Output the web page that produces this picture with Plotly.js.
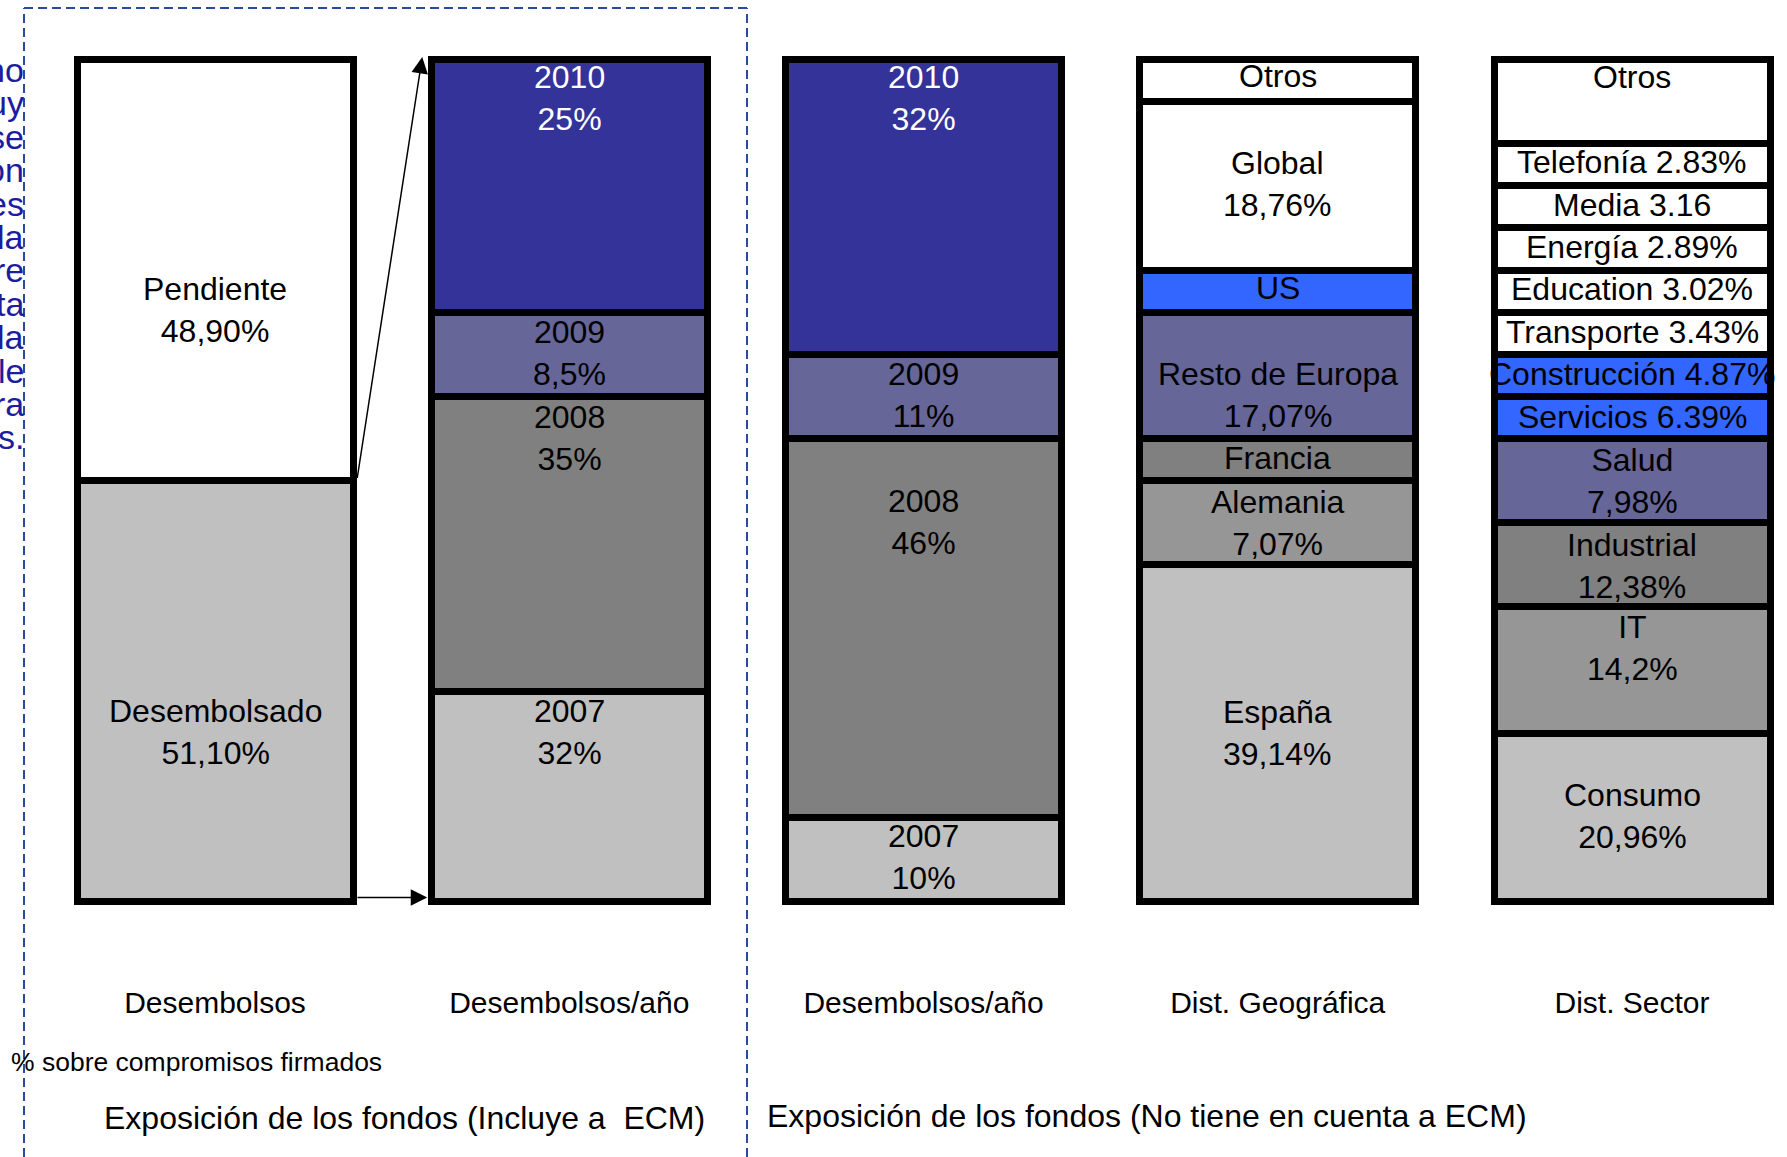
<!DOCTYPE html>
<html>
<head>
<meta charset="utf-8">
<script src="https://cdn.plot.ly/plotly-3.0.1.min.js"></script>
<style>
  html, body { margin: 0; padding: 0; background: #ffffff; }
  #chart { width: 1787px; height: 1157px; }
</style>
</head>
<body>
<div id="chart"></div>
<script>
// ---------------- DATA ----------------
// Bars, left to right (captions under each bar)
const barCaptions = ["Desembolsos", "Desembolsos/año", "Desembolsos/año", "Dist. Geográfica", "Dist. Sector"];

// Segments of each bar listed bottom to top; values = share of the bar as drawn (%)
const desembolsosNames  = ["Desembolsado", "Pendiente"];
const desembolsosValues = [50, 50];
const desembolsosLabels = ["Desembolsado<br>51,10%", "Pendiente<br>48,90%"];

const anioConEcmNames  = ["2007", "2008", "2009", "2010"];
const anioConEcmValues = [25, 35, 10, 30];
const anioConEcmLabels = ["2007<br>32%", "2008<br>35%", "2009<br>8,5%", "2010<br>25%"];

const anioSinEcmNames  = ["2007", "2008", "2009", "2010"];
const anioSinEcmValues = [10, 45, 10, 35];
const anioSinEcmLabels = ["2007<br>10%", "2008<br>46%", "2009<br>11%", "2010<br>32%"];

const geoNames  = ["España", "Alemania", "Francia", "Resto de Europa", "US", "Global", "Otros"];
const geoValues = [40, 10, 5, 15, 5, 20, 5];
const geoLabels = ["España<br>39,14%", "Alemania<br>7,07%", "Francia", "Resto de Europa<br>17,07%", "US", "Global<br>18,76%", "Otros"];

const sectorNames  = ["Consumo", "IT", "Industrial", "Salud", "Servicios", "Construcción", "Transporte", "Education", "Energía", "Media", "Telefonía", "Otros"];
const sectorValues = [20, 15, 10, 10, 5, 5, 5, 5, 5, 5, 5, 10];
const sectorLabels = ["Consumo<br>20,96%", "IT<br>14,2%", "Industrial<br>12,38%", "Salud<br>7,98%", "Servicios 6.39%", "Construcción 4.87%", "Transporte 3.43%", "Education 3.02%", "Energía 2.89%", "Media 3.16", "Telefonía 2.83%", "Otros"];

// Side texts
const noteText = "% sobre compromisos firmados";
const groupTitleLeft = "Exposición de los fondos (Incluye a&nbsp; ECM)";
const groupTitleRight = "Exposición de los fondos (No tiene en cuenta a ECM)";
const clippedMarginText = ["no", "uy", "se", "on", "es", "la", "re", "ta", "la", "le", "ra", "s."];

// ---------------- STYLES ----------------
const DARK = "#333399", PURP = "#666699", G80 = "#808080", G96 = "#969696", GC0 = "#C0C0C0", BLUE = "#3366FF", WH = "#FFFFFF";
const FONT = "Liberation Sans, Arial, sans-serif";

const bars = [
  { values: desembolsosValues, labels: desembolsosLabels, names: desembolsosNames,
    colors: [GC0, WH], textColors: ["#000", "#000"], place: [0.597, 0.595] },
  { values: anioConEcmValues, labels: anioConEcmLabels, names: anioConEcmNames,
    colors: [GC0, G80, PURP, DARK], textColors: ["#000", "#000", "#000", "#fff"], place: [0.197, 0.14, 0.49, 0.154] },
  { values: anioSinEcmValues, labels: anioSinEcmLabels, names: anioSinEcmNames,
    colors: [GC0, G80, PURP, DARK], textColors: ["#000", "#000", "#000", "#fff"], place: [0.47, 0.22, 0.48, 0.13] },
  { values: geoValues, labels: geoLabels, names: geoNames,
    colors: [GC0, G96, G80, PURP, BLUE, WH, WH], textColors: Array(7).fill("#000"),
    place: [0.5, 0.5, 0.47, 0.66, 0.43, 0.49, 0.39] },
  { values: sectorValues, labels: sectorLabels, names: sectorNames,
    colors: [GC0, G96, G80, PURP, BLUE, BLUE, WH, WH, WH, WH, WH, WH], textColors: Array(12).fill("#000"),
    place: [0.49, 0.33, 0.51, 0.51, 0.49, 0.47, 0.47, 0.45, 0.45, 0.46, 0.43, 0.21] }
];

const W = 1787, H = 1157;
const pxPerX = 354.25;            // pixel distance between bar centres
const firstBarPx = 215;
const barWidth = 276 / pxPerX;    // bar width in x units
const yBottomPx = 901.5, yTopPx = 59.5;
const pxPerY = (yBottomPx - yTopPx) / 100;
const xRange = [-firstBarPx / pxPerX, (W - firstBarPx) / pxPerX];
const yRange = [-(H - yBottomPx) / pxPerY, yBottomPx / pxPerY];

const traces = [];
const annotations = [];

bars.forEach((bar, k) => {
  let base = 0;
  bar.values.forEach((v, j) => {
    traces.push({
      type: "bar",
      x: [k],
      y: [v],
      width: [barWidth],
      name: bar.names[j],
      marker: { color: bar.colors[j], line: { color: "#000000", width: 7 } },
      hoverinfo: "skip",
      showlegend: false
    });
    annotations.push({
      x: k, y: base + v * (1 - bar.place[j]),
      xref: "x", yref: "y",
      text: bar.labels[j],
      showarrow: false,
      xanchor: "center", yanchor: "middle",
      font: { family: FONT, size: 32, color: bar.textColors[j] }
    });
    base += v;
  });
});

// Arrows linking "Desembolsado" to the yearly breakdown
const leftEdge1 = 1 - barWidth / 2;
const rightEdge0 = barWidth / 2;
annotations.push({
  x: leftEdge1 - 9 / pxPerX, y: 100 + 2.5 / pxPerY,
  ax: rightEdge0 + 4 / pxPerX, ay: desembolsosValues[0] + 1 / pxPerY,
  xref: "x", yref: "y", axref: "x", ayref: "y",
  text: "", showarrow: true, arrowhead: 2, arrowsize: 2.2, arrowwidth: 1.5, arrowcolor: "#000"
});
annotations.push({
  x: leftEdge1 - 4 / pxPerX, y: 4 / pxPerY,
  ax: rightEdge0 + 3 / pxPerX, ay: 4 / pxPerY,
  xref: "x", yref: "y", axref: "x", ayref: "y",
  text: "", showarrow: true, arrowhead: 2, arrowsize: 2.2, arrowwidth: 1.5, arrowcolor: "#000"
});

// Bottom texts
annotations.push({
  x: 9 / W, y: 1 - 1062 / H, xref: "paper", yref: "paper", xanchor: "left", yanchor: "middle",
  text: noteText, showarrow: false, font: { family: FONT, size: 26.5, color: "#000" }
});
annotations.push({
  x: 404 / W, y: 1 - 1118 / H, xref: "paper", yref: "paper", xanchor: "center", yanchor: "middle",
  text: groupTitleLeft, showarrow: false, font: { family: FONT, size: 32, color: "#000" }
});
annotations.push({
  x: 1147 / W, y: 1 - 1116 / H, xref: "paper", yref: "paper", xanchor: "center", yanchor: "middle",
  text: groupTitleRight, showarrow: false, font: { family: FONT, size: 32, color: "#000" }
});

// Clipped blue text at the left edge (cut by the page border as in the original slide)
clippedMarginText.forEach((t, i) => {
  annotations.push({
    x: 26 / W, y: 1 - (70 + i * 33.4) / H, xref: "paper", yref: "paper",
    xanchor: "right", yanchor: "middle", text: t, showarrow: false,
    font: { family: FONT, size: 34, color: "#1c1ca0" }
  });
});

// Dashed frame around the first group
const dashLine = { color: "#2a4b9b", width: 2, dash: "9px,5px" };
const shapes = [
  { type: "line", xref: "paper", yref: "paper", x0: 24 / W, x1: 24 / W, y0: 0, y1: 1 - 8 / H, line: dashLine },
  { type: "line", xref: "paper", yref: "paper", x0: 24 / W, x1: 747 / W, y0: 1 - 8 / H, y1: 1 - 8 / H, line: dashLine },
  { type: "line", xref: "paper", yref: "paper", x0: 747 / W, x1: 747 / W, y0: 0, y1: 1 - 8 / H, line: dashLine }
];

const layout = {
  width: W, height: H,
  margin: { l: 0, r: 0, t: 0, b: 0, pad: 0 },
  paper_bgcolor: "#ffffff", plot_bgcolor: "#ffffff",
  barmode: "stack",
  showlegend: false,
  xaxis: {
    range: xRange, fixedrange: true,
    tickmode: "array", tickvals: barCaptions.map((_, i) => i), ticktext: barCaptions,
    tickfont: { family: FONT, size: 30, color: "#000" },
    ticks: "", showgrid: false, zeroline: false, showline: false,
    anchor: "free", position: (H - 982) / H
  },
  yaxis: {
    range: yRange, fixedrange: true,
    showgrid: false, zeroline: false, showline: false, showticklabels: false, ticks: ""
  },
  annotations: annotations,
  shapes: shapes
};

Plotly.newPlot("chart", traces, layout, { displayModeBar: false, staticPlot: true });
</script>
</body>
</html>
